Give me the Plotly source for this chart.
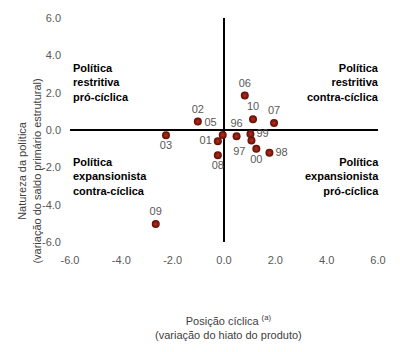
import plotly.graph_objects as go

years = ["96", "97", "98", "99", "00", "01", "02", "03", "05", "06", "07", "08", "09", "10"]
ciclo = [0.49, 1.07, 1.77, 1.03, 1.26, -0.24, -1.02, -2.26, -0.05, 0.81, 1.95, -0.24, -2.66, 1.13]
politica = [-0.33, -0.56, -1.22, -0.21, -1.01, -0.60, 0.45, -0.28, -0.27, 1.85, 0.37, -1.35, -5.04, 0.58]
label_pos = ["top center", "bottom left", "middle right", "middle right", "bottom center",
             "middle left", "top center", "bottom center", "top left", "top center",
             "top center", "bottom center", "top center", "top center"]
tick_vals = [-6, -4, -2, 0, 2, 4, 6]
tick_text = ["-6.0", "-4.0", "-2.0", "0.0", "2.0", "4.0", "6.0"]

FONT = "Liberation Sans"
GREY = "#595959"

fig = go.Figure()
fig.add_trace(go.Scatter(
    x=ciclo, y=politica, mode="markers+text", text=years, textposition=label_pos,
    textfont=dict(family=FONT, size=11, color=GREY),
    marker=dict(size=8, color="#5e0c05", line=dict(width=0),
                gradient=dict(type="radial", color="#b8301c")),
    cliponaxis=False, hoverinfo="skip", showlegend=False,
))

axis_common = dict(range=[-6, 6], showgrid=False, showline=False, zeroline=True,
                   zerolinecolor="black", zerolinewidth=1.5, tickvals=tick_vals,
                   ticktext=tick_text, ticks="", tickfont=dict(family=FONT, size=11, color=GREY),
                   fixedrange=True)
fig.update_xaxes(**axis_common, ticklabelstandoff=10)
fig.update_yaxes(**axis_common, ticklabelstandoff=8)

pw = 400 - 70 - 22
ph = 352 - 13 - 110

quad = [
    ("Política<br>restritiva<br>pró-cíclica", 0.0, (242 - 79) / ph, "left", 1),
    ("Política<br>restritiva<br>contra-cíclica", 1.0, (242 - 79) / ph, "right", 3),
    ("Política<br>expansionista<br>contra-cíclica", 0.0, (242 - 175) / ph, "left", 1),
    ("Política<br>expansionista<br>pró-cíclica", 1.0, (242 - 175) / ph, "right", 3),
]
for txt, xx, yy, al, xs in quad:
    fig.add_annotation(text="<b>" + txt + "</b>", x=xx, y=yy, xref="paper", yref="paper",
                       xanchor=al, yanchor="middle", align=al, showarrow=False, xshift=xs,
                       font=dict(family=FONT, size=11, color="black"))

fig.add_annotation(text="Natureza da política<br>(variação do saldo primário estrutural)",
                   x=(29 - 70) / pw, y=(242 - 170) / ph, xref="paper", yref="paper",
                   xanchor="center", yanchor="middle", showarrow=False, textangle=-90,
                   font=dict(family=FONT, size=11, color="#404040"))

fig.add_annotation(text="Posição cíclica <sup>(a)</sup><br>(variação do hiato do produto)",
                   x=(228 - 70) / pw, y=(242 - 329) / ph, xref="paper", yref="paper",
                   xanchor="center", yanchor="middle", showarrow=False,
                   font=dict(family=FONT, size=11, color="#404040"))

fig.update_layout(
    width=400, height=352, margin=dict(l=70, r=22, t=13, b=110),
    paper_bgcolor="white", plot_bgcolor="white",
    font=dict(family=FONT),
)

fig.write_html("out.html")
